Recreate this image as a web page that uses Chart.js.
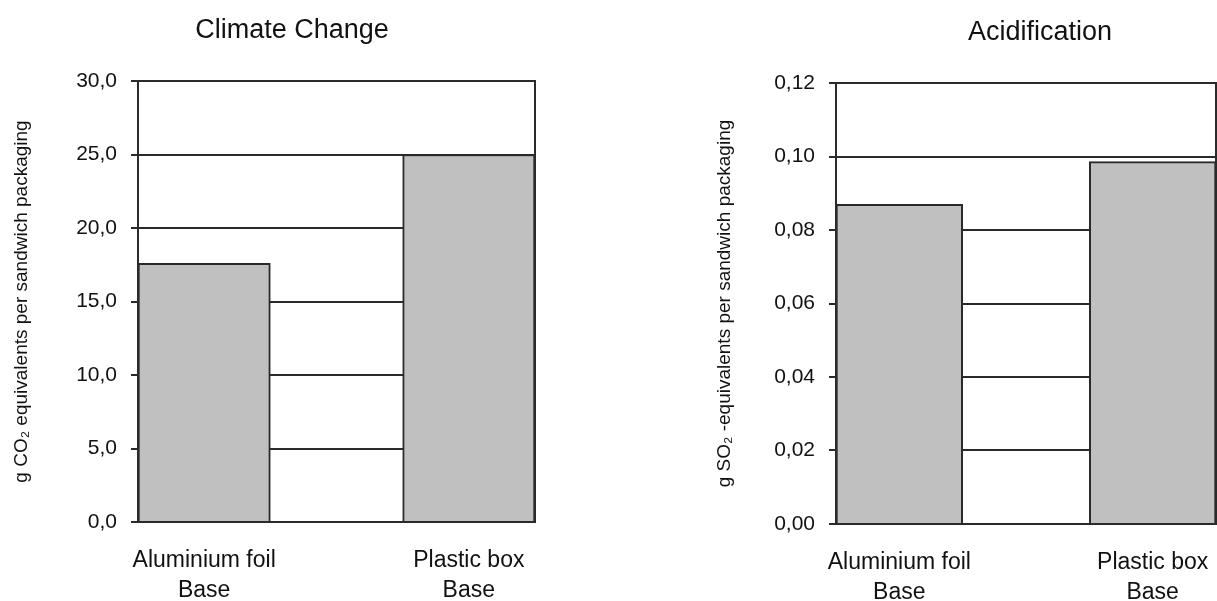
<!DOCTYPE html>
<html>
<head>
<meta charset="utf-8">
<script src="https://cdn.jsdelivr.net/npm/chart.js@4"></script>
<style>
  body { margin: 0; background: #fff; }
  #wrap { position: relative; width: 1217px; height: 601px; overflow: hidden; background: #fff; }
  canvas { position: absolute; }
  #climate { left: 0; top: 0; }
  #acid { left: 698px; top: 2px; }
</style>
</head>
<body>
<div id="wrap">
  <canvas id="climate" width="606" height="601"></canvas>
  <canvas id="acid" width="670" height="601"></canvas>
</div>
<script>
// data
const categories = [["Aluminium foil", "Base"], ["Plastic box", "Base"]];
const climateValues = [17.6, 25.0];
const acidValues = [0.087, 0.0986];
const climateTicks = { min: 0, max: 30, step: 5, decimals: 1 };
const acidTicks = { min: 0, max: 0.12, step: 0.02, decimals: 2 };

const FONT = '"Liberation Sans", Arial, sans-serif';
const INK = "#2a2a2a";

// the gap between the two bars is as wide as a bar, so an empty slot sits in the middle
function withGap(arr, blank) {
  return [arr[0], blank, arr[1]];
}

// black frame round the plot area, drawn under the bars
const frame = {
  id: "frame",
  beforeDatasetsDraw(chart) {
    const { ctx, chartArea: a } = chart;
    ctx.save();
    ctx.strokeStyle = INK;
    ctx.lineWidth = 2;
    ctx.strokeRect(a.left, a.top, a.right - a.left, a.bottom - a.top);
    ctx.restore();
  },
};

// chart heading, placed a little left of the plot centre like the original
const heading = {
  id: "heading",
  afterDraw(chart, args, opts) {
    const { ctx } = chart;
    ctx.save();
    ctx.fillStyle = "#111";
    ctx.font = "27px " + FONT;
    ctx.textAlign = "center";
    ctx.textBaseline = "middle";
    ctx.fillText(opts.text, opts.x, opts.y);
    ctx.restore();
  },
};

function makeChart(id, title, titleX, yTitle, values, ticks, padRight, yTitlePad) {
  const ctx = document.getElementById(id).getContext("2d");
  return new Chart(ctx, {
    type: "bar",
    data: {
      labels: withGap(categories, ""),
      datasets: [
        {
          data: withGap(values, null),
          backgroundColor: "#c0c0c0",
          borderColor: INK,
          borderWidth: 2,
          barPercentage: 1,
          categoryPercentage: 1,
        },
      ],
    },
    options: {
      responsive: false,
      animation: false,
      layout: { padding: { left: 0, right: padRight, top: 81, bottom: 0 } },
      plugins: {
        legend: { display: false },
        tooltip: { enabled: false },
        title: { display: false },
        heading: { text: title, x: titleX, y: 31 },
      },
      scales: {
        x: {
          grid: { display: false, drawTicks: false },
          border: { display: true, color: INK, width: 2 },
          ticks: {
            color: "#111",
            autoSkip: false,
            maxRotation: 0,
            padding: 24,
            font: { family: FONT, size: 23, lineHeight: 1.3 },
          },
          afterFit(scale) {
            scale.height = 79;
          },
        },
        y: {
          min: ticks.min,
          max: ticks.max,
          grid: { color: INK, lineWidth: 2, tickLength: 7 },
          border: { display: true, color: INK, width: 2 },
          ticks: {
            stepSize: ticks.step,
            color: "#111",
            padding: 14,
            font: { family: FONT, size: 21 },
            callback: (v) => Number(v).toFixed(ticks.decimals).replace(".", ","),
          },
          title: {
            display: true,
            text: yTitle,
            color: "#111",
            font: { family: FONT, size: 19 },
            padding: { top: yTitlePad, bottom: 0 },
          },
          afterFit(scale) {
            scale.width = 138;
          },
        },
      },
    },
    plugins: [frame, heading],
  });
}

makeChart("climate", "Climate Change", 292, "g CO\u2082 equivalents per sandwich packaging",
  climateValues, climateTicks, 71, 10);
makeChart("acid", "Acidification", 342, "g SO\u2082 -equivalents per sandwich packaging",
  acidValues, acidTicks, 152, 15);
</script>
</body>
</html>
